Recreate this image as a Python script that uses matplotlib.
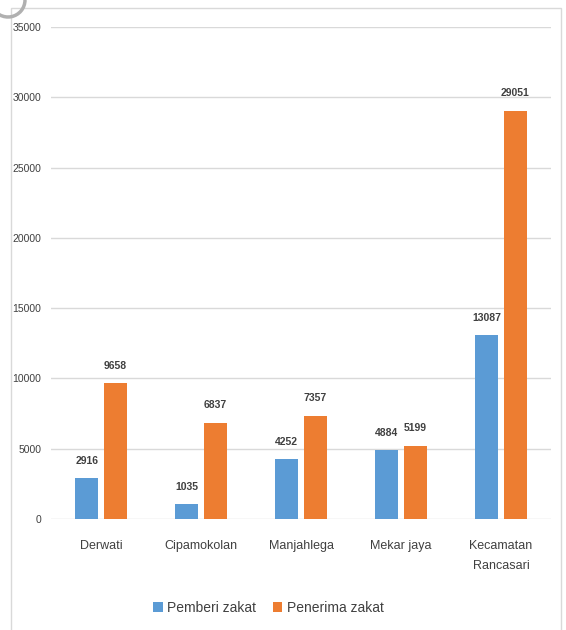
import matplotlib
import matplotlib.pyplot as plt
import numpy as np
from matplotlib.patches import Rectangle, Arc

matplotlib.use('Agg')

plt.rcParams['font.family'] = ['Liberation Sans Narrow', 'Liberation Sans', 'DejaVu Sans']

categories = ['Derwati', 'Cipamokolan', 'Manjahlega', 'Mekar jaya', 'Kecamatan\nRancasari']
pemberi = [2916, 1035, 4252, 4884, 13087]
penerima = [9658, 6837, 7357, 5199, 29051]
series_names = ['Pemberi zakat', 'Penerima zakat']
colors = ['#5B9BD5', '#ED7D31']
text_color = '#404040'

fig = plt.figure(figsize=(5.66, 6.30), dpi=100)
ax = fig.add_axes([51 / 566, 1 - 519 / 630, 500 / 566, (519 - 27) / 630])

x = np.arange(len(categories))
width = 0.23
offset = 0.143
bars = []
for vals, sign, color, name in zip([pemberi, penerima], [-1, 1], colors, series_names):
    b = ax.bar(x + sign * offset, vals, width, color=color, label=name, zorder=3)
    bars.append(b)
    for xi, v in zip(x, vals):
        ax.annotate(str(v), (xi + sign * offset, v), xytext=(0, 9), textcoords='offset points',
                    ha='center', va='bottom', fontsize=7.5, color=text_color, fontweight='bold')

ax.set_xlim(-0.5, len(categories) - 0.5)
ax.set_ylim(0, 35000)
ax.set_yticks(range(0, 35001, 5000))
ax.yaxis.grid(True, color='#d9d9d9', linewidth=1, zorder=0)
ax.set_axisbelow(True)
for s in ax.spines.values():
    s.set_visible(False)
ax.tick_params(axis='both', length=0)
ax.tick_params(axis='y', pad=7, labelsize=7.5, labelcolor=text_color)
ax.set_xticks(x)
ax.set_xticklabels(categories, fontsize=9, color=text_color, linespacing=1.9)
ax.tick_params(axis='x', pad=15)

leg = fig.legend(handles=bars, labels=series_names, loc='center', bbox_to_anchor=(0.474, 1 - 608 / 630),
                 ncol=2, frameon=False, fontsize=10, handlelength=0.7, handleheight=0.7,
                 handletextpad=0.3, columnspacing=1.2)
for t in leg.get_texts():
    t.set_color(text_color)

# outer chart border (bottom edge is cut off)
fig.patches.append(Rectangle((10.5 / 566, -0.05), 550 / 566, 1.05 - 8 / 630, transform=fig.transFigure,
                             fill=False, edgecolor='#d9d9d9', linewidth=1))
# gray arc artifact at top-left corner
fig.patches.append(Arc((8 / 566, 1 - 0 / 630), 34 / 566, 34 / 630, theta1=200, theta2=360,
                       transform=fig.transFigure, edgecolor='#b0b0b0', linewidth=2.5))

fig.savefig('out.png', dpi=100)
